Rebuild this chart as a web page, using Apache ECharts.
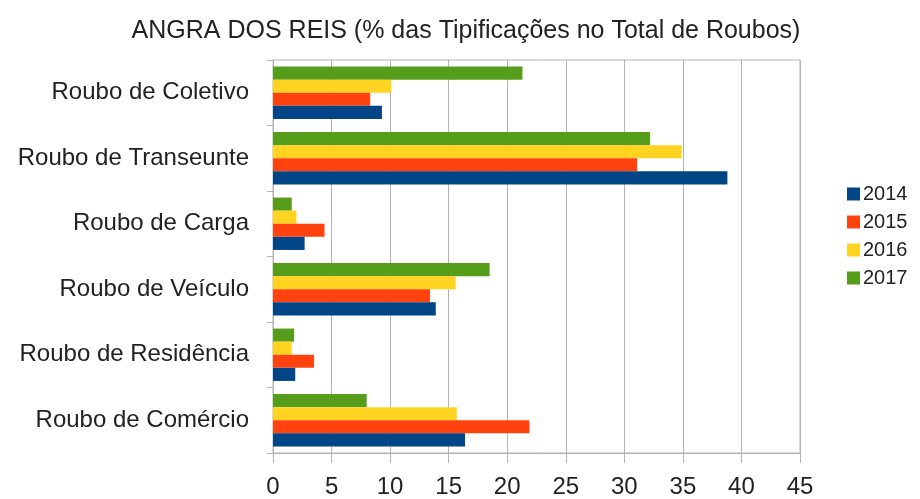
<!DOCTYPE html>
<html>
<head>
<meta charset="utf-8">
<script src="https://cdn.jsdelivr.net/npm/echarts@6/dist/echarts.min.js"></script>
<style>
  html, body { margin: 0; padding: 0; background: #fff; }
  #chart { width: 920px; height: 499px; }
</style>
</head>
<body>
<div id="chart"></div>
<script>
// categories listed bottom to top (ECharts category axis order)
const categories = [
    'Roubo de Comércio',
    'Roubo de Residência',
    'Roubo de Veículo',
    'Roubo de Carga',
    'Roubo de Transeunte',
    'Roubo de Coletivo'
];
const years = ['2014', '2015', '2016', '2017'];
const values2014 = [16.4, 1.9, 13.9, 2.7, 38.8, 9.3];
const values2015 = [21.9, 3.5, 13.4, 4.4, 31.1, 8.3];
const values2016 = [15.7, 1.6, 15.6, 2.0, 34.9, 10.1];
const values2017 = [8.0, 1.8, 18.5, 1.6, 32.2, 21.3];
const xTicks = [0, 5, 10, 15, 20, 25, 30, 35, 40, 45];

const colors = ['#004586', '#ff420e', '#ffd320', '#579d1c'];
const seriesValues = [values2014, values2015, values2016, values2017];

const chart = echarts.init(document.getElementById('chart'), null, { renderer: 'canvas' });

// within a category ECharts stacks the first series on top,
// so add them newest first to get 2014 at the bottom
const series = years.map((y, i) => ({
    name: y,
    type: 'bar',
    data: seriesValues[i],
    itemStyle: { color: colors[i] },
    barGap: 0,
    barCategoryGap: '20%',
    animation: false
})).reverse();

const option = {
    backgroundColor: '#ffffff',
    textStyle: { fontFamily: 'Liberation Sans' },
    title: {
        text: 'ANGRA DOS REIS (% das Tipificações no Total de Roubos)',
        left: 461,
        top: 14,
        textAlign: 'center',
        textStyle: { fontSize: 25, fontWeight: 'normal', color: '#222' }
    },
    legend: {
        orient: 'vertical',
        left: 842,
        top: 179,
        icon: 'rect',
        itemWidth: 13,
        itemHeight: 13,
        itemGap: 8,
        data: years,
        textStyle: { fontSize: 20, color: '#222', padding: [0, 0, 0, -2] }
    },
    grid: {
        left: 273,
        right: 120,
        top: 60,
        bottom: 46,
        show: true,
        borderColor: '#b3b3b3',
        borderWidth: 1
    },
    xAxis: {
        type: 'value',
        min: xTicks[0],
        max: xTicks[xTicks.length - 1],
        interval: 5,
        axisLine: { show: true, lineStyle: { color: '#b3b3b3' } },
        axisTick: { show: true, length: 10, lineStyle: { color: '#b3b3b3' } },
        splitLine: { show: true, lineStyle: { color: '#b3b3b3', width: 1 } },
        axisLabel: { fontSize: 24, color: '#222', margin: 22 }
    },
    yAxis: {
        type: 'category',
        data: categories,
        axisLine: { show: true, lineStyle: { color: '#b3b3b3' } },
        axisTick: { show: true, length: 6, lineStyle: { color: '#b3b3b3' } },
        axisLabel: { fontSize: 24, color: '#222', margin: 24 }
    },
    series: series
};

chart.setOption(option);
</script>
</body>
</html>
